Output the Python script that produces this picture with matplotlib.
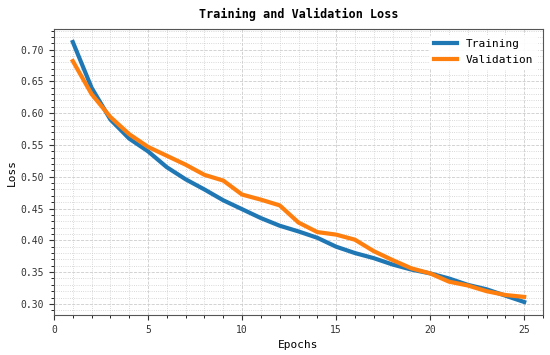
import matplotlib
matplotlib.use("Agg")
import matplotlib.pyplot as plt
from matplotlib.ticker import MultipleLocator

epochs = list(range(1, 26))
train_loss = [0.712, 0.640, 0.590, 0.560, 0.540, 0.515, 0.496, 0.480, 0.463, 0.449,
              0.435, 0.423, 0.414, 0.404, 0.390, 0.380, 0.372, 0.362, 0.354, 0.348,
              0.340, 0.330, 0.323, 0.313, 0.303]
val_loss = [0.682, 0.630, 0.594, 0.567, 0.547, 0.533, 0.519, 0.503, 0.494, 0.472,
            0.464, 0.455, 0.428, 0.413, 0.409, 0.401, 0.383, 0.369, 0.356, 0.348,
            0.335, 0.329, 0.320, 0.314, 0.311]

plt.rcParams['font.family'] = ['DejaVu Sans Mono']
fig = plt.figure(figsize=(5.5, 3.55), dpi=100)
ax = fig.add_axes([54/550, 40/355, 489/550, 286/355])

ax.plot(epochs, train_loss, color='#1f77b4', lw=3, label='Training')
ax.plot(epochs, val_loss, color='#ff7f0e', lw=3, label='Validation')

ax.set_xlim(0, 26)
ax.xaxis.set_major_locator(MultipleLocator(5))
ax.xaxis.set_minor_locator(MultipleLocator(1))
ax.yaxis.set_major_locator(MultipleLocator(0.05))
ax.yaxis.set_minor_locator(MultipleLocator(0.01))
ax.grid(which='major', linestyle='--', color='#cccccc', lw=0.6)
ax.grid(which='minor', linestyle=':', color='#cccccc', lw=0.6)
ax.tick_params(labelsize=7, colors='#333333')
ax.tick_params(which='minor', length=2)
for s in ax.spines.values():
    s.set_color('#555555')

ax.set_title('Training and Validation Loss', fontsize=8.5, fontweight='bold', pad=8)
ax.set_xlabel('Epochs', fontsize=8, labelpad=4)
ax.set_ylabel('Loss', fontsize=8, labelpad=3)
leg = ax.legend(fontsize=8, loc='upper right', frameon=True, framealpha=0.9, edgecolor='white')

fig.savefig('out.png', dpi=100)
